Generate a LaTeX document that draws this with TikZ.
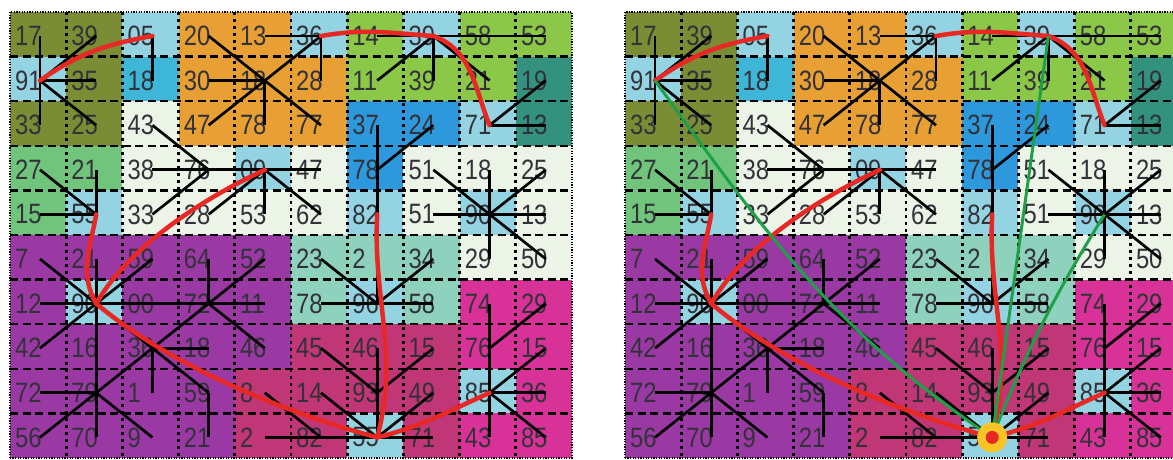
\documentclass[tikz,border=0pt]{standalone}
\usepackage{fontspec}
\newfontfamily\numfont[FakeStretch=0.85]{Liberation Sans}
\usetikzlibrary{arrows.meta}
\definecolor{olv}{RGB}{122,140,52}
\definecolor{lbl}{RGB}{148,212,226}
\definecolor{cyn}{RGB}{62,182,216}
\definecolor{org}{RGB}{232,160,52}
\definecolor{pal}{RGB}{236,244,232}
\definecolor{lgr}{RGB}{140,200,72}
\definecolor{tea}{RGB}{50,146,126}
\definecolor{blu}{RGB}{46,152,220}
\definecolor{grn}{RGB}{112,196,124}
\definecolor{pur}{RGB}{154,56,164}
\definecolor{mte}{RGB}{142,210,190}
\definecolor{ros}{RGB}{192,54,118}
\definecolor{mag}{RGB}{216,50,152}
\definecolor{numgray}{RGB}{50,50,56}
\definecolor{routered}{RGB}{232,40,36}
\definecolor{raygreen}{RGB}{30,160,72}
\definecolor{hubyellow}{RGB}{250,196,36}

\begin{document}
\begin{tikzpicture}[x=1pt, y=1pt,
  num/.style={anchor=west, inner sep=0pt, text=numgray,
              font=\numfont\fontsize{28}{28}\selectfont},
  hgrid/.style={line width=2.5pt, dash pattern=on 8pt off 4.5pt},
  vgrid/.style={line width=2.8pt, dash pattern=on 3pt off 4pt},
  frame/.style={line width=2.2pt, dash pattern=on 1.3pt off 1.3pt},
  link/.style={line width=2.7pt, black},
  route/.style={line width=4.5pt, routered, line cap=round},
  ray/.style={line width=3pt, raygreen}]
\useasboundingbox (0,0) rectangle (1173,459);
\clip (0,0) rectangle (1173,459);

\foreach \p/\dx in {L/0, R/615} {
  % cell colours
  \foreach \cells [count=\ri] in {
      {olv,olv,lbl,org,org,lbl,lgr,lbl,lgr,lgr},
      {lbl,olv,cyn,org,org,org,lgr,lgr,lgr,tea},
      {olv,olv,pal,org,org,org,blu,blu,lbl,tea},
      {grn,grn,pal,pal,lbl,pal,blu,pal,pal,pal},
      {grn,lbl,pal,pal,pal,pal,lbl,pal,lbl,pal},
      {pur,pur,pur,pur,pur,mte,mte,mte,pal,pal},
      {pur,lbl,pur,pur,pur,mte,lbl,mte,mag,mag},
      {pur,pur,pur,pur,pur,ros,ros,ros,mag,mag},
      {pur,pur,pur,pur,ros,ros,ros,ros,lbl,mag},
      {pur,pur,pur,pur,ros,ros,lbl,ros,mag,mag}} {
    \foreach \cl [count=\ci] in \cells
      \fill[\cl] ({\dx+10+56.2*(\ci-1)}, {447-44.6*(\ri-1)}) rectangle +(56.2,-44.6);
  }
  % grid
  \foreach \ri in {1,...,9}
    \draw[hgrid] ({\dx+10}, {447-44.6*\ri}) -- ++(562,0);
  \foreach \ci in {1,...,9}
    \draw[vgrid] ({\dx+10+56.2*\ci}, 447) -- ++(0,-446);
  \draw[frame] ({\dx+10},1) rectangle ++(562,446);
  % numbers and their points
  \foreach \nums [count=\ri] in {
      {17,39,05,20,13,36,14,39,58,53},
      {91,35,18,30,18,28,11,39,21,19},
      {33,25,43,47,78,77,37,24,71,13},
      {27,21,38,76,09,47,78,51,18,25},
      {15,55,33,28,53,62,82,51,90,13},
      {7,21,59,64,52,23,2,34,29,50},
      {12,90,00,72,11,78,96,58,74,29},
      {42,16,36,18,46,45,46,15,76,15},
      {72,79,1,59,8,14,93,49,85,36},
      {56,70,9,21,2,82,55,71,43,85}} {
    \foreach \n [count=\ci] in \nums {
      \coordinate (\p-\ci-\ri) at ({\dx+40+56.2*(\ci-1)}, {423-44.6*(\ri-1)});
      \node[num] (\p n\ci-\ri) at ({\dx+15+56.2*(\ci-1)}, {423-44.6*(\ri-1)}) {\n};
    }
  }
  % neighbour links
  \foreach \a/\b in {1-2/1-1, 1-2/2-1, 1-2/2-2, 1-2/2-3, 1-2/1-3, 3-1/3-2,
      5-2/4-1, 5-2/6-3, 5-2/4-2, 5-2/4-3, 5-2/5-3, 5-2/6-1, 6-1/5-1, 6-1/6-2,
      8-1/7-1, 8-1/9-1, 9-1/10-1, 8-1/8-2, 8-1/7-2, 8-1/9-2, 9-3/10-3, 9-3/10-2,
      7-4/7-3, 7-4/8-3, 7-4/7-5,
      9-5/8-5, 9-5/10-5, 9-5/9-4, 9-5/8-4, 9-5/10-4, 9-5/9-6, 9-5/10-6,
      5-4/4-4, 5-4/6-4, 5-4/6-5, 5-4/5-5, 5-4/4-5, 4-4/3-4, 4-4/3-3, 4-4/3-5,
      2-5/1-4, 2-5/2-4, 2-5/1-5,
      2-7/1-6, 2-7/2-6, 2-7/3-6, 2-7/1-7, 2-7/3-7, 2-7/1-8, 2-7/2-8, 2-7/3-8,
      4-7/3-7, 4-7/5-7, 4-7/5-6, 4-7/4-6, 4-7/5-8, 4-7/3-8,
      3-8/4-8, 3-8/2-9, 3-8/3-9, 3-8/4-9,
      2-9/1-9, 2-9/1-10, 2-9/2-10, 2-9/3-10, 2-9/2-8,
      4-9/4-10, 5-9/6-10, 6-10/5-10,
      7-10/6-10, 7-10/8-10, 7-10/6-9, 7-10/7-9, 7-10/8-9,
      7-9/6-8, 7-9/7-8, 7-9/8-8,
      7-7/6-6, 7-7/7-6, 7-7/8-6, 7-7/6-7, 7-7/8-7,
      9-9/9-8, 9-9/9-10, 9-9/10-8, 9-9/10-9, 9-9/10-10, 9-8/9-7, 9-8/10-7}
    \draw[link] (\p-\a) -- (\p-\b);
  % red routes
  \draw[route] (\p-1-2) to[out=35,in=190] (\p-3-1);
  \draw[route] (\p-6-1) to[out=10,in=176] (\p-8-1) to[out=-20,in=112] (\p-9-3);
  \draw[route] (\p-5-4) to[out=205,in=60,looseness=0.8] (\p-2-7);
  \draw[route] (\p-2-5) to[out=-100,in=120] (\p-2-7)
    to[out=-40,in=165,looseness=0.8] (\p-7-10);
  \draw[route] (\p-7-5) to[out=-93,in=75] (\p-7-10);
  \draw[route] (\p-9-9) to[out=204,in=14] (\p-7-10);
}

% green rays from the hub
\draw[ray] (R-7-10) to[out=146,in=-54] (R-1-2);
\draw[ray] (R-7-10) -- (R-8-1);
\draw[ray] (R-7-10) to[bend left=5] (R-9-5);
\node[circle, fill=hubyellow, minimum size=30pt, inner sep=0pt] (hub) at (R-7-10) {};
\node[circle, fill=routered, minimum size=13pt, inner sep=0pt] (hubc) at (hub) {};
\end{tikzpicture}
\end{document}
